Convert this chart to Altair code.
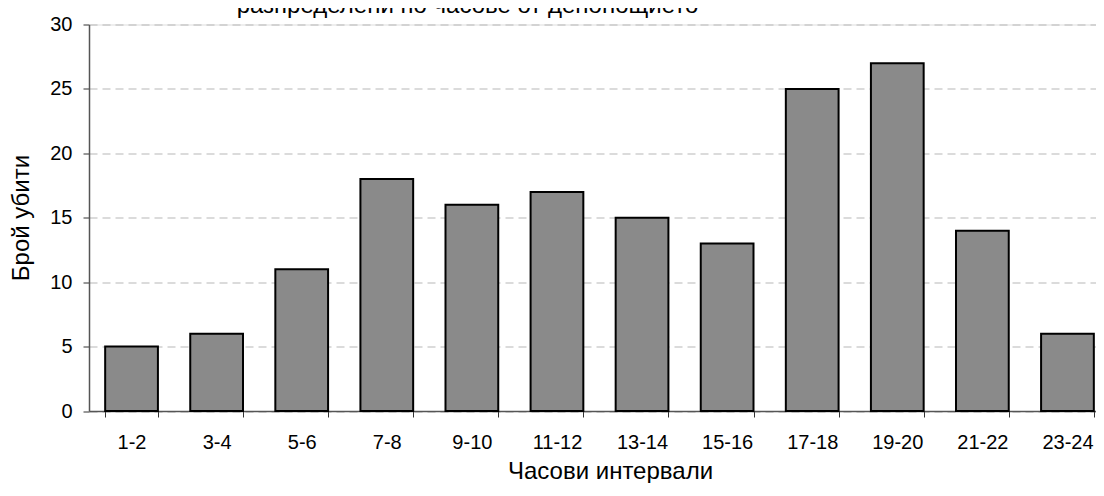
import altair as alt
import pandas as pd

categories = ["1-2", "3-4", "5-6", "7-8", "9-10", "11-12", "13-14", "15-16",
              "17-18", "19-20", "21-22", "23-24"]
values = [5, 6, 11, 18, 16, 17, 15, 13, 25, 27, 14, 6]
title_text = "разпределени по часове от денонощието"
y_ticks = [0, 5, 10, 15, 20, 25, 30]

df = pd.DataFrame({"interval": categories, "count": values})
FONT = "Liberation Sans"

bars = alt.Chart(df).mark_bar(
    color="#8a8a8a", stroke="#000000", strokeWidth=2
).encode(
    x=alt.X(
        "interval:N",
        sort=categories,
        scale=alt.Scale(range=[0, 1021], paddingInner=0.38, paddingOuter=0.19),
        axis=alt.Axis(
            title="Часови интервали",
            labelAngle=0,
            labelFontSize=20,
            labelColor="#000000",
            labelPadding=15,
            labelFont=FONT,
            tickBand="extent",
            ticks=True,
            tickSize=6,
            tickColor="#333333",
            domainColor="#555555",
            domainWidth=1.5,
            grid=False,
            titleFontSize=24,
            titleFont=FONT,
            titleFontWeight="normal",
            titleColor="#000000",
            titleX=521,
            titleY=67,
            titleAnchor="middle",
            titleAlign="center",
            titleBaseline="alphabetic",
        ),
    ),
    y=alt.Y(
        "count:Q",
        scale=alt.Scale(domain=[0, 30], nice=False),
        axis=alt.Axis(
            title="Брой убити",
            values=y_ticks,
            labelFontSize=20,
            labelColor="#000000",
            labelFont=FONT,
            labelPadding=11,
            tickSize=6,
            tickColor="#333333",
            domainColor="#555555",
            domainWidth=1.5,
            grid=True,
            gridColor="#b8b8b8",
            gridDash=[8, 5],
            gridWidth=1.2,
            titleFontSize=24,
            titleFont=FONT,
            titleFontWeight="normal",
            titleColor="#000000",
            titleAngle=-90,
            titleX=-61,
            titleY=193,
            titleAlign="center",
            titleBaseline="alphabetic",
        ),
    ),
)

title_df = pd.DataFrame({"t": [title_text]})
title = alt.Chart(title_df).mark_text(
    fontSize=24, font=FONT, color="#000000", align="center", baseline="alphabetic"
).encode(
    text="t:N",
    x=alt.value(378.5),
    y=alt.value(-12),
)

chart = alt.layer(bars, title).properties(
    width=1007,
    height=386.5,
    autosize=alt.AutoSizeParams(type="none"),
    padding={"left": 81, "top": 16.5, "right": 0, "bottom": 72},
).configure_view(stroke=None).configure(background="#ffffff")

chart.save("out.html", embed_options={"renderer": "svg", "actions": False})
